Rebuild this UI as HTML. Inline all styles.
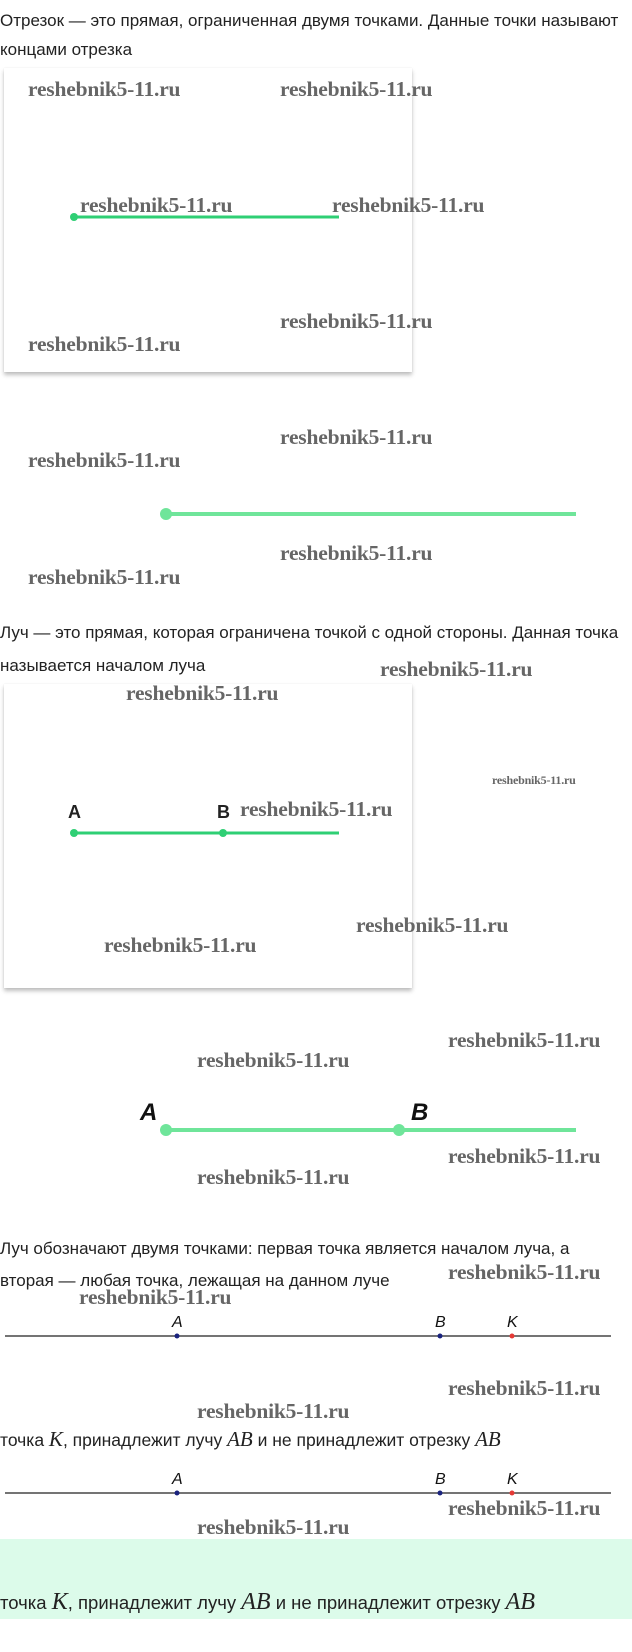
<!DOCTYPE html>
<html><head><meta charset="utf-8"><style>
body{margin:0;width:632px;height:1652px;background:#fff;position:relative;overflow:hidden;font-family:"Liberation Sans",sans-serif;}
.t{position:absolute;left:0;font-size:17px;color:#222;white-space:nowrap;line-height:20px}
.w{position:absolute;font-family:"Liberation Serif",serif;font-weight:bold;font-size:21.5px;color:#666;white-space:nowrap;line-height:20px;letter-spacing:-0.2px}
.box{position:absolute;left:4px;width:408px;background:#fff;box-shadow:0 3px 4px rgba(0,0,0,0.25),0 0 1px rgba(0,0,0,0.1)}
.m{font-family:"Liberation Serif",serif;font-style:italic;font-size:21px}
svg{position:absolute;left:0;top:0}
</style></head><body>
<div class="t" style="top:11px">Отрезок — это прямая, ограниченная двумя точками. Данные точки называют</div>
<div class="t" style="top:40px">концами отрезка</div>
<div class="box" style="top:68px;height:304px"></div>
<div class="box" style="top:684px;height:304px"></div>
<div class="t" style="top:623px">Луч — это прямая, которая ограничена точкой с одной стороны. Данная точка</div>
<div class="t" style="top:656px">называется началом луча</div>
<div class="t" style="top:1239px">Луч обозначают двумя точками: первая точка является началом луча, а</div>
<div class="t" style="top:1271px">вторая — любая точка, лежащая на данном луче</div>
<div class="t" style="top:1429px;font-size:17.5px">точка <span class="m">K</span>, принадлежит лучу <span class="m">AB</span> и не принадлежит отрезку <span class="m">AB</span></div>
<div style="position:absolute;left:0;top:1539px;width:632px;height:80px;background:#dcfbea"></div>
<div class="t" style="top:1592px;font-size:18.5px">точка <span class="m" style="font-size:24px">K</span>, принадлежит лучу <span class="m" style="font-size:24px">AB</span> и не принадлежит отрезку <span class="m" style="font-size:24px">AB</span></div>
<svg width="632" height="1652">
<line x1="74" y1="217" x2="339" y2="217" stroke="#2fcf74" stroke-width="3"/>
<circle cx="74" cy="217" r="4" fill="#2fcf74"/>
<line x1="166" y1="514" x2="576" y2="514" stroke="#6fe59a" stroke-width="4"/>
<circle cx="166" cy="514" r="6" fill="#6fe59a"/>
<line x1="74" y1="833" x2="339" y2="833" stroke="#2fcf74" stroke-width="3"/>
<circle cx="74" cy="833" r="4" fill="#2fcf74"/>
<circle cx="223" cy="833" r="4" fill="#2fcf74"/>
<text x="68" y="818" font-family="Liberation Sans" font-weight="bold" font-size="18" fill="#222">A</text>
<text x="217" y="818" font-family="Liberation Sans" font-weight="bold" font-size="18" fill="#222">B</text>
<line x1="166" y1="1130" x2="576" y2="1130" stroke="#6fe59a" stroke-width="4"/>
<circle cx="166" cy="1130" r="6" fill="#6fe59a"/>
<circle cx="399" cy="1130" r="6" fill="#6fe59a"/>
<text x="140" y="1120" font-family="Liberation Sans" font-style="italic" font-weight="bold" font-size="24" fill="#111">A</text>
<text x="411" y="1120" font-family="Liberation Sans" font-style="italic" font-weight="bold" font-size="24" fill="#111">B</text>
<g font-family="Liberation Sans" font-style="italic" font-size="16" fill="#111">
<line x1="5" y1="1336" x2="611" y2="1336" stroke="#222" stroke-width="1.3"/>
<circle cx="177" cy="1336" r="2.5" fill="#1a237e"/><circle cx="440" cy="1336" r="2.5" fill="#1a237e"/><circle cx="512" cy="1336" r="2.5" fill="#e53935"/>
<text x="172" y="1327">A</text><text x="435" y="1327">B</text><text x="507" y="1327">K</text>
<line x1="5" y1="1493" x2="611" y2="1493" stroke="#222" stroke-width="1.3"/>
<circle cx="177" cy="1493" r="2.5" fill="#1a237e"/><circle cx="440" cy="1493" r="2.5" fill="#1a237e"/><circle cx="512" cy="1493" r="2.5" fill="#e53935"/>
<text x="172" y="1484">A</text><text x="435" y="1484">B</text><text x="507" y="1484">K</text>
</g>
</svg>
<div class="w" style="left:28px;top:79px">reshebnik5-11.ru</div>
<div class="w" style="left:280px;top:79px">reshebnik5-11.ru</div>
<div class="w" style="left:80px;top:195px">reshebnik5-11.ru</div>
<div class="w" style="left:332px;top:195px">reshebnik5-11.ru</div>
<div class="w" style="left:280px;top:311px">reshebnik5-11.ru</div>
<div class="w" style="left:28px;top:334px">reshebnik5-11.ru</div>
<div class="w" style="left:280px;top:427px">reshebnik5-11.ru</div>
<div class="w" style="left:28px;top:450px">reshebnik5-11.ru</div>
<div class="w" style="left:280px;top:543px">reshebnik5-11.ru</div>
<div class="w" style="left:28px;top:567px">reshebnik5-11.ru</div>
<div class="w" style="left:380px;top:659px">reshebnik5-11.ru</div>
<div class="w" style="left:126px;top:683px">reshebnik5-11.ru</div>
<div class="w" style="left:492px;top:774px;font-size:12px;line-height:12px">reshebnik5-11.ru</div>
<div class="w" style="left:240px;top:799px">reshebnik5-11.ru</div>
<div class="w" style="left:356px;top:915px">reshebnik5-11.ru</div>
<div class="w" style="left:104px;top:935px">reshebnik5-11.ru</div>
<div class="w" style="left:448px;top:1030px">reshebnik5-11.ru</div>
<div class="w" style="left:197px;top:1050px">reshebnik5-11.ru</div>
<div class="w" style="left:448px;top:1146px">reshebnik5-11.ru</div>
<div class="w" style="left:197px;top:1167px">reshebnik5-11.ru</div>
<div class="w" style="left:448px;top:1262px">reshebnik5-11.ru</div>
<div class="w" style="left:79px;top:1287px">reshebnik5-11.ru</div>
<div class="w" style="left:448px;top:1378px">reshebnik5-11.ru</div>
<div class="w" style="left:197px;top:1401px">reshebnik5-11.ru</div>
<div class="w" style="left:448px;top:1498px">reshebnik5-11.ru</div>
<div class="w" style="left:197px;top:1517px">reshebnik5-11.ru</div>
</body></html>
